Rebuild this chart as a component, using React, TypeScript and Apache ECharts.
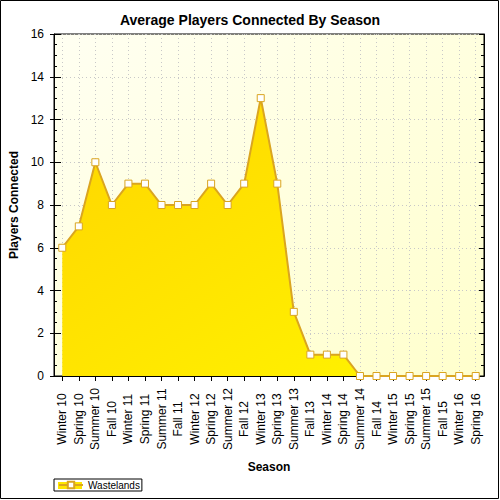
import React, { useEffect, useRef } from "react";
import * as echarts from "echarts";

const categories = [
  "Winter 10", "Spring 10", "Summer 10", "Fall 10",
  "Winter 11", "Spring 11", "Summer 11", "Fall 11",
  "Winter 12", "Spring 12", "Summer 12", "Fall 12",
  "Winter 13", "Spring 13", "Summer 13", "Fall 13",
  "Winter 14", "Spring 14", "Summer 14", "Fall 14",
  "Winter 15", "Spring 15", "Summer 15", "Fall 15",
  "Winter 16", "Spring 16",
];
const wastelands = [6, 7, 10, 8, 9, 9, 8, 8, 8, 9, 8, 9, 13, 9, 3, 1, 1, 1, 0, 0, 0, 0, 0, 0, 0, 0];

const FONT = "'Liberation Sans', Arial, sans-serif";

export default function App() {
  const ref = useRef<HTMLDivElement>(null);
  useEffect(() => {
    if (!ref.current) return;
    const chart = echarts.init(ref.current, undefined, { renderer: "svg" });
    const option: any = {
      animation: false,
      backgroundColor: "#ffffff",
      title: {
        text: "Average Players Connected By Season",
        left: "center",
        top: 8,
        textStyle: { fontFamily: FONT, fontSize: 14, fontWeight: "bold", color: "#000" },
      },
      graphic: [
        {
          type: "rect",
          shape: { x: 0.5, y: 0.5, width: 498, height: 498 },
          style: { fill: "none", stroke: "#000", lineWidth: 1 },
          silent: true,
          z: 100,
        },
        {
          type: "rect",
          shape: { x: 58, y: 482, width: 24, height: 7 },
          style: { fill: "#ffe600" },
          silent: true,
          z: 0,
        },
      ],
      legend: {
        left: 54,
        top: 479,
        orient: "horizontal",
        borderColor: "#000",
        borderWidth: 1,
        padding: [1, 2, 1, 4],
        itemWidth: 24,
        itemHeight: 8,
        itemGap: 4,
        textStyle: { fontFamily: FONT, fontSize: 10, color: "#000" },
        data: ["Wastelands"],
      },
      grid: {
        left: 54,
        right: 16,
        top: 34,
        bottom: 124,
        outerBoundsMode: "none",
        containLabel: false,
        show: true,
        borderColor: "#000",
        borderWidth: 1,
        backgroundColor: new echarts.graphic.LinearGradient(0, 0, 1, 1, [
          { offset: 0, color: "#fffff2" },
          { offset: 1, color: "#ffffcc" },
        ]),
      },
      xAxis: [
        {
          type: "category",
          data: categories,
          boundaryGap: true,
          name: "Season",
          nameLocation: "middle",
          nameGap: 85,
          nameTextStyle: { fontFamily: FONT, fontSize: 12, fontWeight: "bold", color: "#000" },
          axisLine: { show: true, lineStyle: { color: "#000", width: 1 } },
          axisTick: { show: true, alignWithLabel: true, interval: 0, length: 5, lineStyle: { color: "#000" } },
          axisLabel: {
            interval: 0,
            rotate: 90,
            align: "center",
            verticalAlign: "middle",
            margin: 43,
            fontFamily: FONT,
            fontSize: 12,
            color: "#000",
          },
          splitLine: {
            show: true,
            alignWithLabel: true,
            interval: 0,
            lineStyle: { color: "#c8c8c8", type: [1, 3], width: 1 },
          },
        },
        {
          type: "category",
          data: categories,
          position: "top",
          boundaryGap: true,
          axisLine: { show: true, lineStyle: { color: "#000" } },
          axisTick: { show: true, inside: true, alignWithLabel: true, interval: 0, length: 5, lineStyle: { color: "#000" } },
          axisLabel: { show: false },
          splitLine: { show: false },
        },
      ],
      yAxis: [
        {
          type: "value",
          min: 0,
          max: 16,
          interval: 2,
          name: "Players Connected",
          nameLocation: "middle",
          nameGap: 33,
          nameTextStyle: { fontFamily: FONT, fontSize: 12, fontWeight: "bold", color: "#000" },
          axisLine: { show: true, lineStyle: { color: "#000" } },
          axisTick: { show: true, length: 4, lineStyle: { color: "#000" } },
          axisLabel: { fontFamily: FONT, fontSize: 12, color: "#000", margin: 10 },
          splitLine: { show: true, lineStyle: { color: "#c8c8c8", type: [1, 3], width: 1 } },
        },
        {
          type: "value",
          min: 0,
          max: 16,
          interval: 2,
          position: "left",
          offset: 0,
          axisLine: { show: false },
          axisTick: { show: true, inside: true, length: 7, lineStyle: { color: "#000" } },
          minorTick: { show: true, splitNumber: 4, length: 3, lineStyle: { color: "#000" } },
          axisLabel: { show: false },
          splitLine: { show: false },
        },
        {
          type: "value",
          min: 0,
          max: 16,
          interval: 2,
          position: "right",
          offset: 0,
          axisLine: { show: true, lineStyle: { color: "#000" } },
          axisTick: { show: true, inside: true, length: 5, lineStyle: { color: "#000" } },
          minorTick: { show: true, splitNumber: 4, length: 3, lineStyle: { color: "#000" } },
          axisLabel: { show: false },
          splitLine: { show: false },
        },
      ],
      series: [
        {
          name: "Wastelands",
          type: "line",
          xAxisIndex: 0,
          yAxisIndex: 0,
          data: wastelands,
          symbol: "rect",
          symbolSize: 7,
          showSymbol: true,
          itemStyle: { color: "#ffffff", borderColor: "#daa520", borderWidth: 1 },
          lineStyle: { color: "#daa520", width: 2 },
          areaStyle: {
            origin: "start",
            opacity: 1,
            color: new echarts.graphic.LinearGradient(0, 0, 1, 1, [
              { offset: 0, color: "#ffd500" },
              { offset: 1, color: "#fff500" },
            ]),
          },
          z: 3,
        },
      ],
    };
    chart.setOption(option);
    return () => chart.dispose();
  }, []);
  return (
    <div
      ref={ref}
      style={{ position: "fixed", left: 0, top: 0, width: 500, height: 500 }}
    />
  );
}
